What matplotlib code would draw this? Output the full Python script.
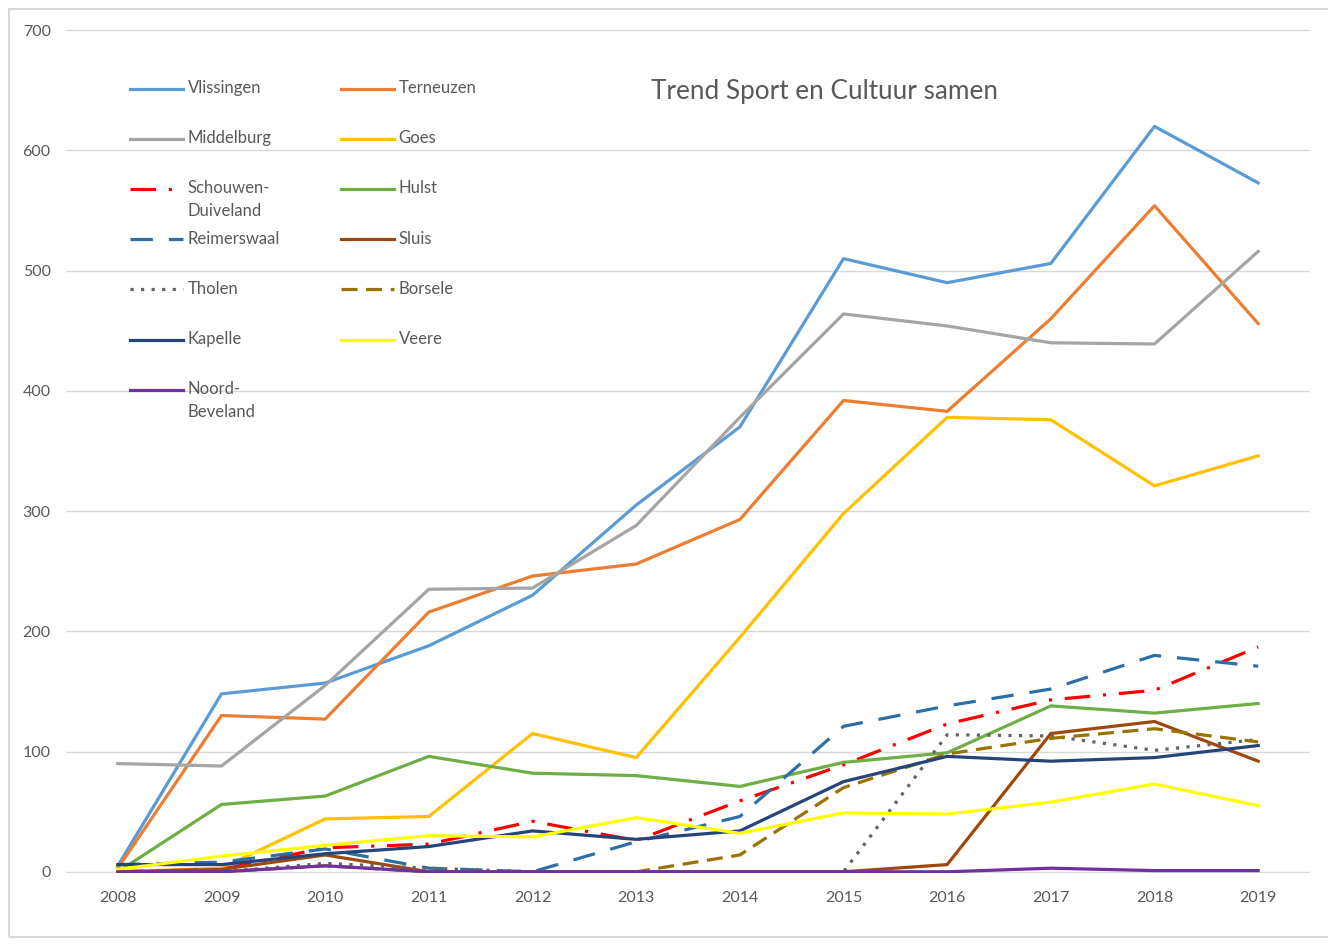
import matplotlib.pyplot as plt
from matplotlib.patches import Rectangle
from matplotlib.legend_handler import HandlerLine2D
from matplotlib.transforms import Affine2D

plt.rcParams['font.family'] = ['Lato', 'DejaVu Sans']

years = ['2008', '2009', '2010', '2011', '2012', '2013', '2014', '2015', '2016', '2017', '2018', '2019']

vlissingen = [5, 148, 157, 188, 230, 305, 370, 510, 490, 506, 620, 573]
terneuzen = [3, 130, 127, 216, 246, 256, 293, 392, 383, 460, 554, 456]
middelburg = [90, 88, 155, 235, 236, 288, 378, 464, 454, 440, 439, 516]
goes = [0, 3, 44, 46, 115, 95, 195, 298, 378, 376, 321, 346]
schouwen = [0, 2, 20, 23, 42, 26, 59, 89, 123, 143, 151, 187]
hulst = [0, 56, 63, 96, 82, 80, 71, 91, 99, 138, 132, 140]
reimerswaal = [6, 8, 19, 3, 0, 25, 46, 121, 138, 152, 180, 171]
sluis = [0, 2, 14, 0, 0, 0, 0, 0, 6, 115, 125, 92]
tholen = [0, 0, 7, 3, 0, 0, 0, 0, 114, 113, 101, 110]
borsele = [0, 0, 5, 0, 0, 0, 14, 70, 98, 111, 119, 108]
kapelle = [6, 6, 15, 21, 34, 27, 34, 75, 96, 92, 95, 105]
veere = [2, 13, 22, 30, 29, 45, 32, 49, 48, 58, 73, 55]
noord_beveland = [0, 0, 5, 0, 0, 0, 0, 0, 0, 3, 1, 1]

names = ['Vlissingen', 'Terneuzen', 'Middelburg', 'Goes', 'Schouwen-\nDuiveland', 'Hulst',
         'Reimerswaal', 'Sluis', 'Tholen', 'Borsele', 'Kapelle', 'Veere', 'Noord-\nBeveland']
series = [vlissingen, terneuzen, middelburg, goes, schouwen, hulst,
          reimerswaal, sluis, tholen, borsele, kapelle, veere, noord_beveland]
colors = ['#5B9BD5', '#ED7D31', '#A5A5A5', '#FFC000', '#FF0000', '#70AD47',
          '#2E6EA6', '#9E480E', '#636363', '#997300', '#264478', '#FFFF00', '#7030A0']
styles = ['-', '-', '-', '-', (0, (8, 4, 1, 4)), '-',
          (0, (7, 5)), '-', (0, (1, 2.3)), (0, (5, 2.7)), '-', '-', '-']

grey_text = '#595959'


class TopLineHandler(HandlerLine2D):
    # handle naast de eerste regel van het label zetten
    def __init__(self, shift, **kw):
        super().__init__(**kw)
        self.shift = shift

    def create_artists(self, legend, orig_handle, xdescent, ydescent, width, height, fontsize, trans):
        trans = Affine2D().translate(0, self.shift) + trans
        return super().create_artists(legend, orig_handle, xdescent, ydescent,
                                      width, height, fontsize, trans)


fig = plt.figure(figsize=(13.28, 9.52), dpi=100)
ax = fig.add_axes([66 / 1328, 1 - 873 / 952, 1244 / 1328, 844 / 952])

x = list(range(len(years)))
handles = []
for name, vals, col, ls in zip(names, series, colors, styles):
    ln, = ax.plot(x, vals, color=col, linestyle=ls, linewidth=2.3, label=name)
    handles.append(ln)

ax.set_xlim(-0.5, len(years) - 0.5)
ax.set_ylim(-1, 701)
ax.set_yticks(range(0, 701, 100))
ax.set_xticks(x)
ax.set_xticklabels(years)
ax.tick_params(length=0, labelsize=11.5, labelcolor=grey_text)
ax.tick_params(axis='y', pad=11)
ax.tick_params(axis='x', pad=13)
for s in ax.spines.values():
    s.set_visible(False)
ax.grid(axis='y', color='#D9D9D9', linewidth=1)
ax.set_axisbelow(True)

# legenda: rij voor rij, twee kolommen
order = [0, 2, 4, 6, 8, 10, 12, 1, 3, 5, 7, 9, 11]
leg_labels = [names[i] if '\n' in names[i] else names[i] + '\n ' for i in order]
leg = fig.legend([handles[i] for i in order], leg_labels, ncol=2,
                 loc='upper left', bbox_to_anchor=(130 / 1328, 1 - 80 / 952),
                 frameon=False, fontsize=12, borderpad=0, borderaxespad=0,
                 handlelength=3.15, handletextpad=0.3, columnspacing=3.68,
                 labelspacing=0.68,
                 handler_map={ln: TopLineHandler(8.3) for ln in handles})
for t in leg.get_texts():
    t.set_color(grey_text)
    t.set_linespacing(1.53)

fig.text(824 / 1328, 1 - 91 / 952, 'Trend Sport en Cultuur samen', fontsize=18.8,
         color=grey_text, ha='center', va='center')

fig.add_artist(Rectangle((9 / 1328, 1 - 937 / 952), 1.0, 928 / 952, transform=fig.transFigure,
                         fill=False, edgecolor='#D9D9D9', linewidth=1.5))

fig.savefig('out.png', dpi=100)
